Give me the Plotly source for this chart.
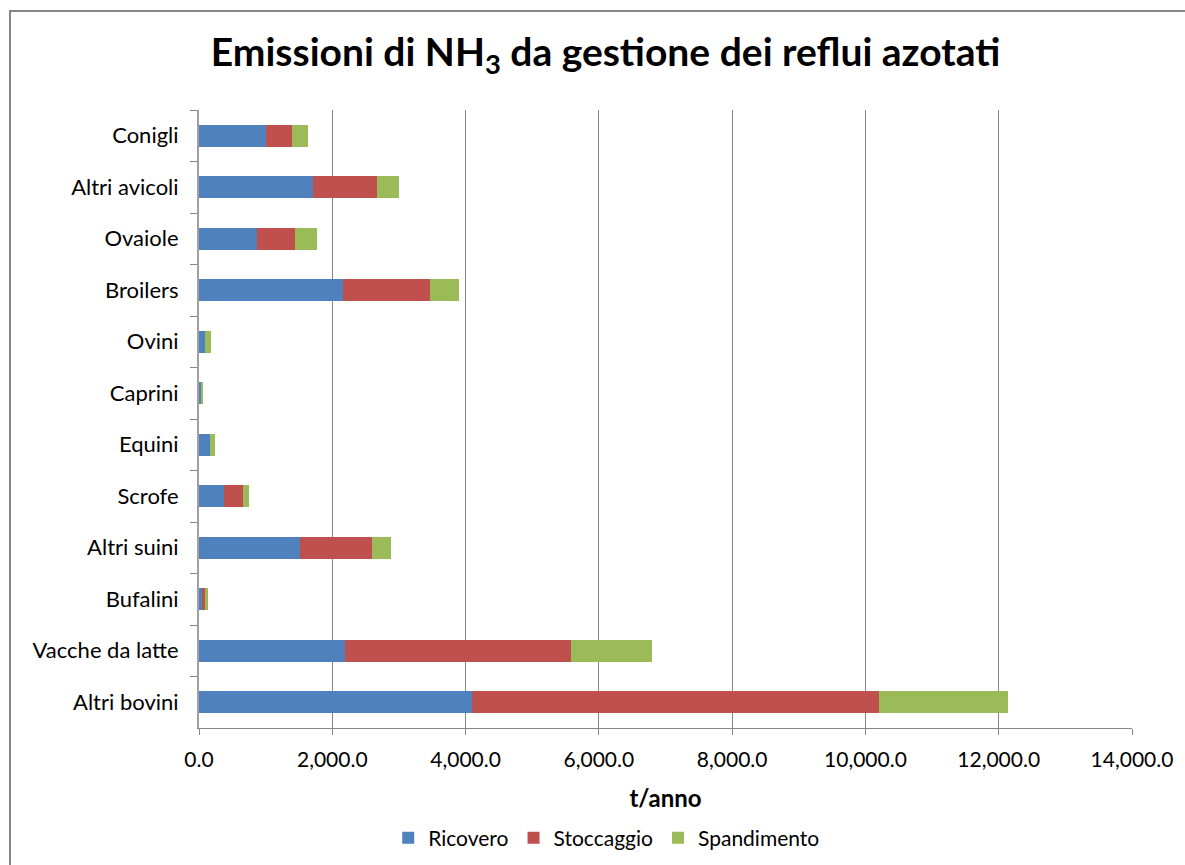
import plotly.graph_objects as go

categories = ["Conigli", "Altri avicoli", "Ovaiole", "Broilers", "Ovini", "Caprini",
              "Equini", "Scrofe", "Altri suini", "Bufalini", "Vacche da latte", "Altri bovini"]
ricovero = [1000, 1711, 870, 2166, 90, 30, 165, 375, 1516, 45, 2188, 4101]
stoccaggio = [400, 960, 576, 1301, 5, 3, 5, 290, 1080, 45, 3397, 6109]
spandimento = [235, 330, 330, 430, 90, 30, 70, 90, 285, 45, 1208, 1935]

series = [("Ricovero", ricovero, "#4F81BD"),
          ("Stoccaggio", stoccaggio, "#C0504D"),
          ("Spandimento", spandimento, "#9BBB59")]

FONT = "Lato, Carlito, Calibri, sans-serif"

fig = go.Figure()
for name, vals, col in series:
    fig.add_trace(go.Bar(y=categories, x=vals, name=name, orientation="h",
                         marker=dict(color=col, line=dict(width=0))))

L, R, T, B = 199, 1185 - 1132, 110, 865 - 728
W, H = 1185 - L - R, 865 - T - B

def px(x):
    return (x - L) / W

def py(y):
    return (865 - B - y) / H

fig.update_layout(
    width=1185, height=865,
    margin=dict(l=L, r=R, t=T, b=B, autoexpand=False),
    barmode="stack", bargap=0.58,
    paper_bgcolor="white", plot_bgcolor="white",
    font=dict(family=FONT, size=21, color="#000000"),
    title=dict(text="<b>Emissioni di NH<sub>3</sub> da gestione dei reflui azotati</b>",
               x=0.511, xanchor="center", y=1 - 52 / 865, yanchor="middle",
               font=dict(family=FONT, size=39, color="#000000")),
    xaxis=dict(range=[0, 14000], dtick=2000, tick0=0, tickformat=",.1f",
               showgrid=True, gridcolor="#878787", gridwidth=1,
               showline=True, linecolor="#878787", linewidth=1,
               ticks="outside", ticklen=6, tickcolor="#878787",
               tickfont=dict(family=FONT, size=21), ticklabelstandoff=7,
               zeroline=False, fixedrange=True,
               title=dict(text="<b>t/anno</b>", font=dict(family=FONT, size=24, color="#000000"),
                          standoff=19)),
    yaxis=dict(autorange="reversed", type="category", tickson="boundaries",
               showline=True, linecolor="#A0A0A0", linewidth=2,
               ticks="outside", ticklen=7, tickcolor="#878787",
               tickfont=dict(family=FONT, size=22), fixedrange=True,
               showgrid=False, ticklabelstandoff=14),
    legend=dict(orientation="h", xref="container", x=0.512, xanchor="center",
                y=py(838), yanchor="middle",
                font=dict(family=FONT, size=21), itemwidth=30, traceorder="normal"),
    showlegend=True,
)

fig.add_shape(type="rect", xref="paper", yref="paper",
              x0=px(10), x1=px(1210), y0=py(900), y1=py(11),
              line=dict(color="#878787", width=2), fillcolor="rgba(0,0,0,0)", layer="below")

fig.write_html("out.html", config={"displayModeBar": False},
               post_script="document.body.style.margin='0';")
